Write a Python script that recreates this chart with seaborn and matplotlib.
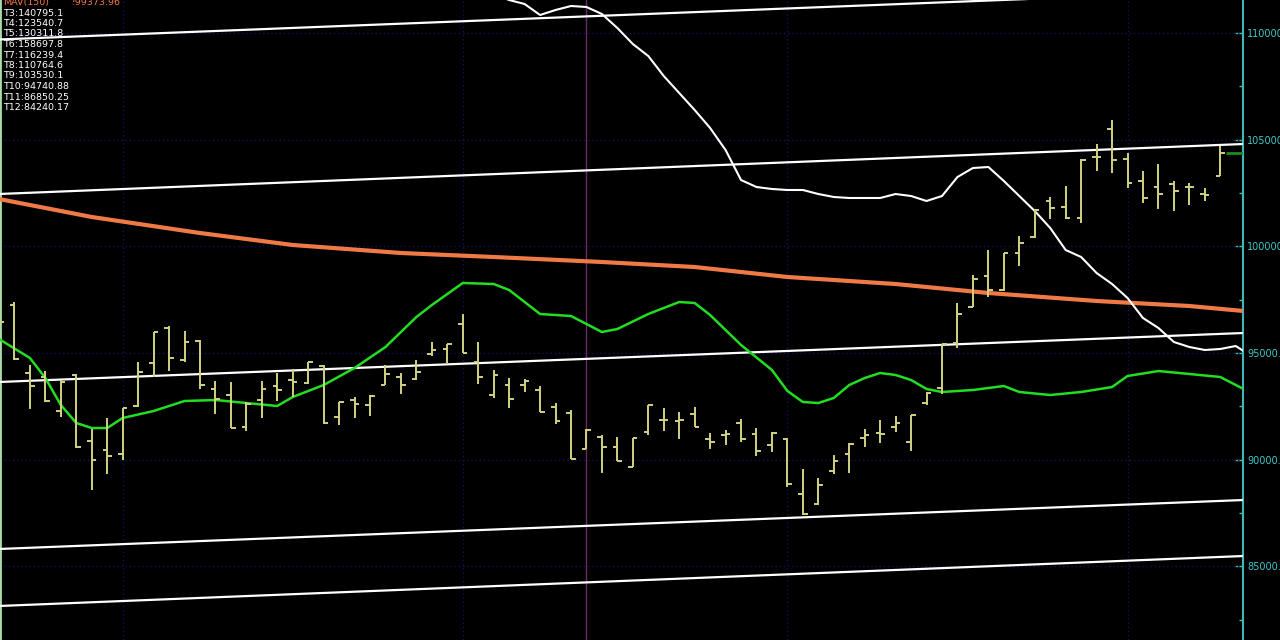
import matplotlib
matplotlib.use("Agg")
import pandas as pd
import matplotlib.pyplot as plt
import seaborn as sns
from matplotlib.ticker import MultipleLocator, FormatStrFormatter

# -----------------------------
# Data
# -----------------------------
opens = [96550, 97250, 94060, 93880, 92280, 93970, 90880, 90450, 90270, 92520,
         94530, 96170, 94670, 95560, 93310, 93030, 91530, 92800, 93450, 93730,
         93590, 94390, 92000, 92800, 92560, 93500, 93880, 93780, 94950, 95190,
         96360, 94580, 93030, 93500, 93500, 93270, 92470, 92190, 90500, 91060,
         90590, 89660, 91300, 91860, 91810, 92140, 90970, 91160, 91720, 91200,
         90690, 90970, 88390, 87920, 89470, 90270, 91020, 91250, 91530, 90830,
         92660, 93360, 95470, 97160, 98610, 97950, 99690, 100440, 102110, 101830,
         101310, 104190, 105500, 104090, 103060, 102780, 102920, 102780, 102440, 103300]
highs = [97250, 97390, 94440, 94160, 93730, 94020, 91440, 91950, 92420, 94580,
         95980, 96270, 96030, 95610, 93690, 93640, 92700, 93690, 94060, 94250,
         94580, 94420, 92700, 92940, 93030, 94440, 94060, 94670, 95520, 95420,
         96830, 95520, 94200, 93830, 93780, 93450, 92660, 92330, 91440, 91160,
         91060, 91020, 92560, 92420, 92230, 92470, 91250, 91390, 91910, 91480,
         91300, 91020, 89560, 89140, 90220, 90780, 91440, 91860, 92050, 92090,
         93170, 95420, 97340, 98660, 99830, 99690, 100480, 101730, 102300, 102810,
         104080, 104800, 105920, 104380, 103530, 103860, 103060, 102970, 102730, 104700]
lows = [95610, 94670, 92380, 92700, 92000, 90550, 88580, 89330, 89980, 92470,
        93880, 94160, 94580, 93310, 92140, 91480, 91340, 91950, 92750, 92940,
        93550, 91670, 91620, 91950, 92050, 93480, 93080, 93730, 94860, 94530,
        95000, 93550, 92890, 92420, 93170, 92230, 91670, 90030, 90480, 89380,
        89940, 89640, 91160, 91340, 90970, 91530, 90500, 90690, 90830, 90170,
        90360, 88720, 87410, 87880, 89330, 89380, 90590, 90780, 91300, 90410,
        92560, 93080, 95230, 97140, 97630, 97910, 99080, 100390, 101270, 101270,
        101090, 103530, 103440, 102730, 102030, 101730, 101640, 101950, 102110, 103280]
closes = [96450, 94720, 93450, 92750, 93640, 90590, 89980, 90170, 92420, 94110,
          95980, 94770, 95520, 93500, 92840, 91500, 92610, 93310, 93270, 93640,
          94580, 91700, 92700, 92610, 92980, 94020, 93500, 94110, 95140, 95420,
          95020, 93880, 93970, 92840, 93690, 92250, 91810, 90050, 91390, 90590,
          89960, 91000, 92540, 91860, 91860, 91550, 90830, 91200, 90970, 90410,
          91250, 88860, 87450, 88810, 89940, 90730, 91160, 91200, 91720, 92080,
          93130, 95400, 96830, 98470, 97950, 99670, 100160, 101720, 101780, 101310,
          104060, 104190, 104050, 102970, 102270, 102450, 102590, 102780, 102390, 104380]

# MAV(150)
mav_x = [0, 6, 13, 19, 26, 32, 39, 45, 51, 58, 64, 71, 77, 80.5]
mav_y = [102219, 101375, 100625, 100063, 99688, 99500, 99266, 99031, 98563, 98234,
         97813, 97438, 97203, 96969]

# green average
green_x = [0, 2, 3, 4, 5, 6, 7, 8, 10, 12, 14, 16, 18, 19, 21, 23, 25, 27, 28, 30,
           32, 33, 35, 37, 39, 40, 42, 44, 45, 46, 48, 50, 51, 52, 53, 54, 55, 56, 57, 58,
           59, 60, 61, 63, 65, 66, 68, 70, 72, 73, 75, 77, 79, 80.5]
green_y = [95656, 94766, 93828, 92563, 91719, 91484, 91484, 91953, 92281, 92750,
           92797, 92656, 92516, 92938, 93500, 94297, 95281, 96688, 97250, 98281,
           98234, 97953, 96828, 96734, 95984, 96125, 96828, 97391, 97344, 96781,
           95375, 94203, 93219, 92703, 92656, 92891, 93500, 93828, 94063, 93969,
           93734, 93313, 93172, 93266, 93453, 93172, 93031, 93172, 93406, 93922,
           94156, 94016, 93875, 93313]

# white oscillating line
white_x = list(range(32, 81)) + [80.5]
white_y = [111828, 111547, 111359, 110844, 111078, 111266, 111219, 110891, 110234, 109484,
           108922, 107984, 107188, 106391, 105547, 104516, 103109, 102781, 102688, 102641,
           102641, 102453, 102313, 102266, 102266, 102266, 102453, 102359, 102125, 102359,
           103250, 103672, 103719, 103063, 102359, 101656, 100859, 99828, 99500, 98750,
           98234, 97578, 96641, 96172, 95516, 95281, 95141, 95188, 95328, 95094]

# channel lines (start at left edge, end at right edge)
chan_x = [0, 80.5]
chan_1 = [109695, 111992]
chan_2 = [102453, 104797]
chan_3 = [93641, 95938]
chan_4 = [85813, 88109]
chan_5 = [83141, 85484]

labels = ["T3:140795.1", "T4:123540.7", "T5:130311.8", "T6:158697.8", "T7:116239.4",
          "T8:110764.6", "T9:103530.1", "T10:94740.88", "T11:86850.25", "T12:84240.17"]

month_starts = [8, 30, 51, 73]
marker_bar = 38

# -----------------------------
# Plot
# -----------------------------
sns.set_style("dark", {"axes.facecolor": "black", "figure.facecolor": "black"})
plt.rcParams["font.family"] = ["DejaVu Sans"]

fig = plt.figure(figsize=(12.8, 6.4), dpi=100, facecolor="black")
ax = fig.add_axes([0, 0, 1243 / 1280, 1])
ax.set_facecolor("black")

xs = list(range(len(opens)))

# grid
for v in range(85000, 111000, 5000):
    ax.axhline(v, color="#12125a", lw=1, ls=(0, (1, 2)), zorder=1)
for m in month_starts:
    ax.axvline(m, color="#12125a", lw=1, ls=(0, (1, 2)), zorder=1)
ax.axvline(marker_bar, color="#6a2a6a", lw=1, zorder=1)

# channel lines
for ch in [chan_1, chan_2, chan_3, chan_4, chan_5]:
    sns.lineplot(x=chan_x, y=ch, ax=ax, color="white", lw=1.6, zorder=3)

# MAV, green, white indicator
sns.lineplot(x=mav_x, y=mav_y, ax=ax, color="#f07a45", lw=3, zorder=3)
sns.lineplot(x=green_x, y=green_y, ax=ax, color="#22dd22", lw=1.8, zorder=3)
sns.lineplot(x=white_x, y=white_y, ax=ax, color="white", lw=1.5, zorder=3)

# OHLC bars
bar_col = "#d2d282"
w = 0.3
ax.vlines(xs, lows, highs, color=bar_col, lw=1.4, zorder=4)
ax.hlines(opens, [x - w for x in xs], xs, color=bar_col, lw=1.4, zorder=4)
ax.hlines(closes, xs, [x + w for x in xs], color=bar_col, lw=1.4, zorder=4)
ax.hlines(closes[-1], xs[-1] + 0.4, 80.5, color="#1f8a1f", lw=2, zorder=4)

ax.set_xlim(0.065, 80.47)
ax.set_ylim(81547, 111547)

# right price axis
ax.yaxis.tick_right()
ax.yaxis.set_major_locator(MultipleLocator(5000))
ax.yaxis.set_minor_locator(MultipleLocator(2500))
ax.yaxis.set_major_formatter(FormatStrFormatter("%.1f"))
ax.tick_params(axis="y", which="major", direction="in", length=6, width=1,
               color="#40b8b8", labelcolor="#40c8c8", labelsize=7, pad=3)
ax.tick_params(axis="y", which="minor", direction="in", length=3, width=1, color="#40b8b8")
ax.set_xticks([])
for s in ["top", "bottom"]:
    ax.spines[s].set_visible(False)
ax.spines["right"].set_color("#40b8b8")
ax.spines["right"].set_linewidth(1.5)
ax.spines["left"].set_color("#a8dca8")
ax.spines["left"].set_linewidth(2)
ax.set_xlabel("")
ax.set_ylabel("")

# legend-like text block
fig.text(3 / 1280, 1 - 2.5 / 640, "MAV(150)", color="#f07a45", fontsize=6.8, va="center")
fig.text(72 / 1280, 1 - 2.5 / 640, "!99373.96", color="#f07a45", fontsize=6.8, va="center")
for k, t in enumerate(labels):
    fig.text(3 / 1280, 1 - (13 + 10.5 * k) / 640, t, color="white", fontsize=6.8, va="center")

fig.savefig("out.png", dpi=100, facecolor="black")
